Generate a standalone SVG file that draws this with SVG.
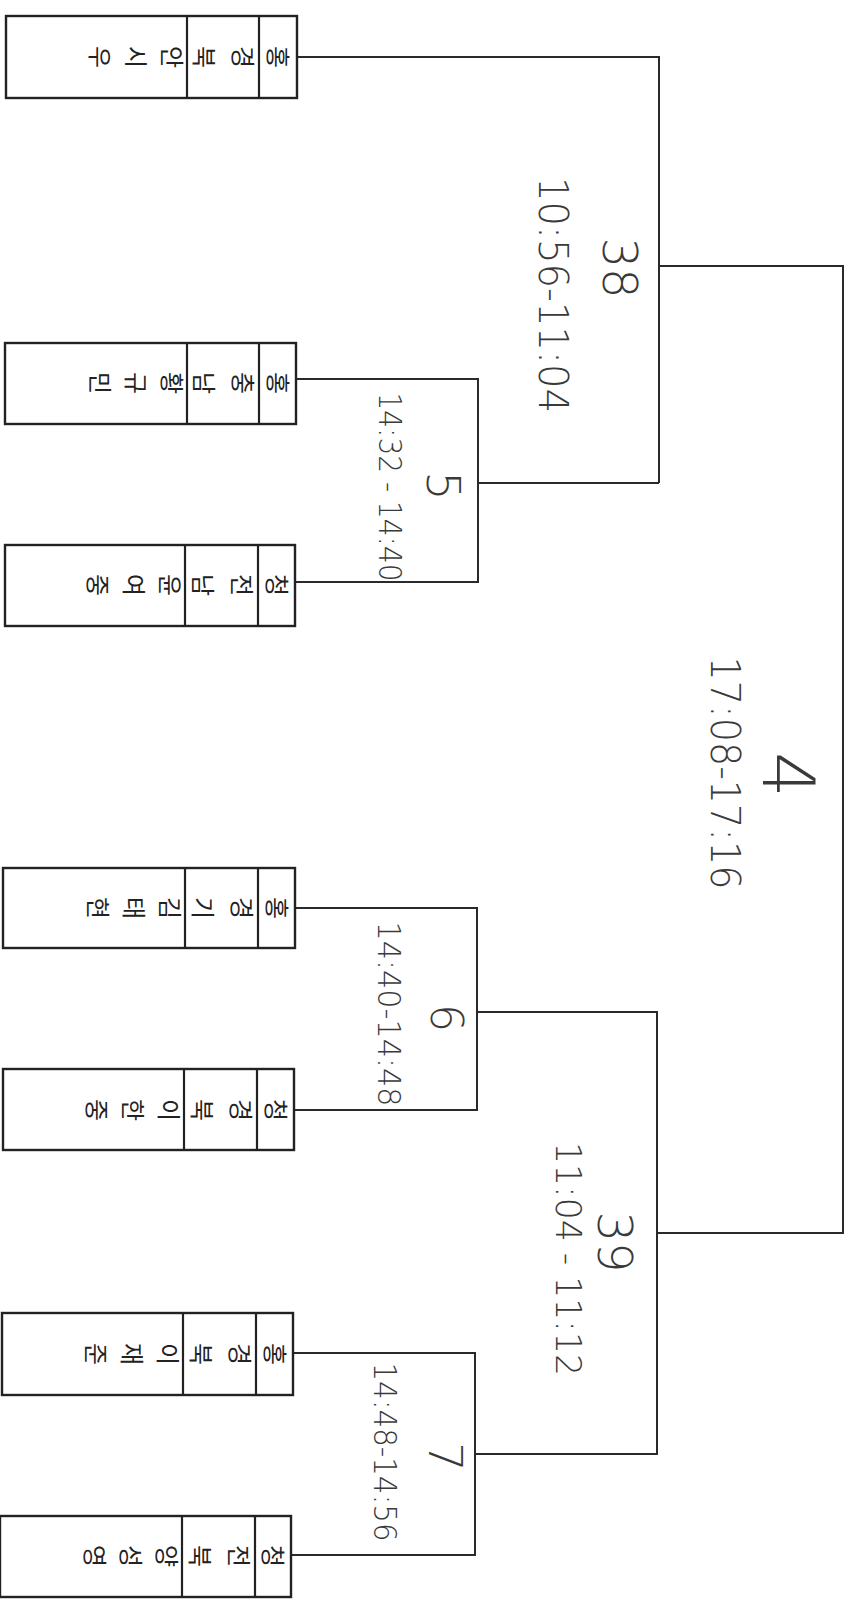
<svg xmlns="http://www.w3.org/2000/svg" width="850" height="1607" viewBox="0 0 850 1607">
<style>
.box{fill:#fff;stroke:#222;stroke-width:2.4}
.div{stroke:#222;stroke-width:2.2}
.ln{fill:none;stroke:#2a2a2a;stroke-width:2}
.nm{font-family:"Noto Sans CJK KR","Noto Sans",sans-serif;font-size:24px;fill:#222;writing-mode:vertical-rl;text-orientation:upright}
.hw{font-family:"DejaVu Sans","Liberation Sans",sans-serif;font-weight:200;fill:#3a3a3a;text-anchor:middle}
</style>
<rect width="850" height="1607" fill="#fff"/>
<g id="connectors">
<path class="ln" d="M297,57 H659 V483"/>
<path class="ln" d="M296,379 H478 V582 H295"/>
<path class="ln" d="M478,483 H659"/>
<path class="ln" d="M659,266 H843 V1233 H657"/>
<path class="ln" d="M295,908 H477 V1110 H294"/>
<path class="ln" d="M477,1012 H657 V1454 H475"/>
<path class="ln" d="M293,1353 H475 V1555 H291"/>
</g>
<g id="n1">
<rect class="box" x="6" y="16" width="291" height="82"/>
<line class="div" x1="187" y1="16" x2="187" y2="98"/><line class="div" x1="259" y1="16" x2="259" y2="98"/>
<text class="nm" transform="translate(290,57) rotate(90)">홍</text>
<text class="nm" transform="translate(255,57) rotate(90)" style="letter-spacing:15px">경북</text>
<text class="nm" transform="translate(184,57) rotate(90)" style="letter-spacing:12px">안시우</text>
</g>
<g id="n2">
<rect class="box" x="5" y="343" width="291" height="81"/>
<line class="div" x1="187" y1="343" x2="187" y2="424"/><line class="div" x1="259" y1="343" x2="259" y2="424"/>
<text class="nm" transform="translate(290,383) rotate(90)">홍</text>
<text class="nm" transform="translate(255,383) rotate(90)" style="letter-spacing:15px">충남</text>
<text class="nm" transform="translate(184,383) rotate(90)" style="letter-spacing:12px">황규민</text>
</g>
<g id="n3">
<rect class="box" x="5" y="545" width="290" height="81"/>
<line class="div" x1="185" y1="545" x2="185" y2="626"/><line class="div" x1="258" y1="545" x2="258" y2="626"/>
<text class="nm" transform="translate(289,585) rotate(90)">청</text>
<text class="nm" transform="translate(254,585) rotate(90)" style="letter-spacing:15px">전남</text>
<text class="nm" transform="translate(182,585) rotate(90)" style="letter-spacing:12px">윤여중</text>
</g>
<g id="n4">
<rect class="box" x="3" y="868" width="292" height="80"/>
<line class="div" x1="185" y1="868" x2="185" y2="948"/><line class="div" x1="258" y1="868" x2="258" y2="948"/>
<text class="nm" transform="translate(289,908) rotate(90)">홍</text>
<text class="nm" transform="translate(254,908) rotate(90)" style="letter-spacing:15px">경기</text>
<text class="nm" transform="translate(182,908) rotate(90)" style="letter-spacing:12px">김태현</text>
</g>
<g id="n5">
<rect class="box" x="3" y="1069" width="291" height="81"/>
<line class="div" x1="184" y1="1069" x2="184" y2="1150"/><line class="div" x1="257" y1="1069" x2="257" y2="1150"/>
<text class="nm" transform="translate(288,1110) rotate(90)">청</text>
<text class="nm" transform="translate(253,1110) rotate(90)" style="letter-spacing:15px">경북</text>
<text class="nm" transform="translate(181,1110) rotate(90)" style="letter-spacing:12px">이한중</text>
</g>
<g id="n6">
<rect class="box" x="2" y="1313" width="291" height="82"/>
<line class="div" x1="183" y1="1313" x2="183" y2="1395"/><line class="div" x1="256" y1="1313" x2="256" y2="1395"/>
<text class="nm" transform="translate(287,1354) rotate(90)">홍</text>
<text class="nm" transform="translate(252,1354) rotate(90)" style="letter-spacing:15px">경북</text>
<text class="nm" transform="translate(180,1354) rotate(90)" style="letter-spacing:12px">이재준</text>
</g>
<g id="n7">
<rect class="box" x="0" y="1516" width="291" height="81"/>
<line class="div" x1="182" y1="1516" x2="182" y2="1597"/><line class="div" x1="255" y1="1516" x2="255" y2="1597"/>
<text class="nm" transform="translate(285,1556) rotate(90)">청</text>
<text class="nm" transform="translate(251,1556) rotate(90)" style="letter-spacing:15px">전북</text>
<text class="nm" transform="translate(179,1556) rotate(90)" style="letter-spacing:12px">양성영</text>
</g>
<g id="labels">
<text class="hw" font-size="46" transform="translate(427,486) rotate(90)">5</text>
<text class="hw" font-size="32" textLength="189" lengthAdjust="spacingAndGlyphs" transform="translate(379,487) rotate(90)">14:32 - 14:40</text>
<text class="hw" font-size="44" transform="translate(431,1018) rotate(90)">6</text>
<text class="hw" font-size="32" textLength="185" lengthAdjust="spacingAndGlyphs" transform="translate(378,1014) rotate(90)">14:40-14:48</text>
<text class="hw" font-size="46" transform="translate(429,1457) rotate(90)">7</text>
<text class="hw" font-size="32" textLength="179" lengthAdjust="spacingAndGlyphs" transform="translate(374,1452) rotate(90)">14:48-14:56</text>
<text class="hw" font-size="48" transform="translate(603,268) rotate(90)">38</text>
<text class="hw" font-size="40" textLength="236" lengthAdjust="spacingAndGlyphs" transform="translate(539,295) rotate(90)">10:56-11:04</text>
<text class="hw" font-size="48" transform="translate(598,1242) rotate(90)">39</text>
<text class="hw" font-size="36" textLength="234" lengthAdjust="spacingAndGlyphs" transform="translate(556,1259) rotate(90)">11:04 - 11:12</text>
<text class="hw" font-size="72" transform="translate(763,775) rotate(90)">4</text>
<text class="hw" font-size="40" textLength="233" lengthAdjust="spacingAndGlyphs" transform="translate(711,773) rotate(90)">17:08-17:16</text>
</g>
</svg>
